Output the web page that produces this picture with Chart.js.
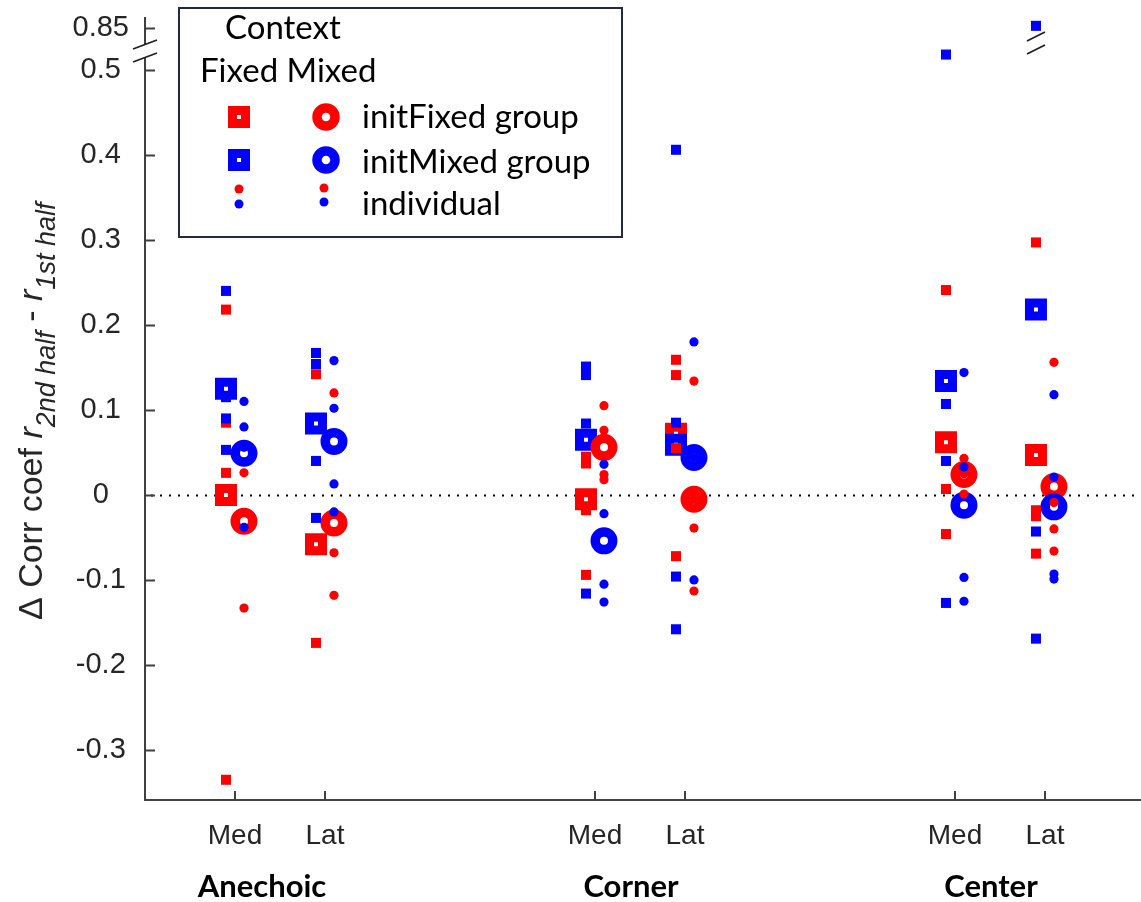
<!DOCTYPE html>
<html>
<head>
<meta charset="utf-8">
<script src="https://cdn.jsdelivr.net/npm/chart.js@4.4.0/dist/chart.umd.min.js"></script>
<style>
    html, body { margin: 0; padding: 0; background: #fff; overflow: hidden; }
    #wrap { width: 1141px; height: 902px; position: relative; }
</style>
</head>
<body>
<div id="wrap"><canvas id="chart"></canvas></div>
<script>
// categories
const rooms = ['Anechoic', 'Corner', 'Center'];
const roomLabelX = [1.3, 5.4, 9.4];
const conditions = ['Med', 'Lat', 'Med', 'Lat', 'Med', 'Lat'];
const xPositions = [1, 2, 5, 6, 9, 10];

// y ticks (0.85 sits above the axis break)
const yTicks = [-0.3, -0.2, -0.1, 0, 0.1, 0.2, 0.3, 0.4, 0.5];
const breakTick = 0.85;

// group means: <initGroup><Context>
const initFixedFixedGroup = [0.000, -0.058, -0.005, 0.072, 0.062, 0.047];
const initMixedFixedGroup = [0.125, 0.084, 0.065, 0.059, 0.134, 0.218];
const initFixedMixedGroup = [-0.031, -0.033, 0.056, -0.005, 0.024, 0.010];
const initMixedMixedGroup = [0.049, 0.063, -0.054, 0.044, -0.012, -0.014];

// individuals, one list per condition
const initFixedFixedInd = [
    [0.218, 0.085, 0.026, -0.335],
    [0.142, -0.174],
    [0.045, 0.037, -0.018, -0.094],
    [0.159, 0.141, 0.055, -0.072],
    [0.241, 0.007, -0.046],
    [0.297, -0.018, -0.025, -0.069]
];
const initMixedFixedInd = [
    [0.240, 0.115, 0.090, 0.053],
    [0.167, 0.154, 0.040, -0.027],
    [0.151, 0.141, 0.084, -0.116],
    [0.406, 0.085, -0.096, -0.158],
    [0.518, 0.107, 0.040, -0.127],
    [0.853, -0.043, -0.169]
];
const initFixedMixedInd = [
    [0.026, -0.133],
    [0.120, -0.068, -0.118],
    [0.105, 0.076, 0.024, 0.018],
    [0.134, -0.005, -0.039, -0.113],
    [0.043, 0.025, 0.001],
    [0.156, -0.009, -0.040, -0.066]
];
const initMixedMixedInd = [
    [0.110, 0.080, 0.056, -0.038],
    [0.158, 0.102, 0.013, -0.020],
    [0.036, -0.022, -0.105, -0.126],
    [0.180, 0.044, -0.100],
    [0.144, 0.033, -0.097, -0.125],
    [0.118, 0.021, -0.093, -0.099]
];

const RED = '#ff0000';
const BLUE = '#0000ff';
const AXIS = '#404040';
const TEXT = '#262626';

// axis break: values above it are shifted down so 0.85 sits just above 0.5
const BREAK_POS = 0.5488;
const onAxis = (v) => v > 0.6 ? v - breakTick + BREAK_POS : v;

const groupPoints = (vals, dx) => vals.map((v, i) => ({ x: xPositions[i] + dx, y: onAxis(v) }));
const indPoints = (lists, dx) => lists.flatMap((vals, i) => vals.map(v => ({ x: xPositions[i] + dx, y: onAxis(v) })));

const SQ = -0.1;   // Fixed context column
const CI = 0.1;    // Mixed context column

const smallSquare = (color) => ({ pointStyle: 'rect', pointRadius: 7.1, pointBorderWidth: 0, pointBackgroundColor: color });
const smallCircle = (color) => ({ pointStyle: 'circle', pointRadius: 4.6, pointBorderWidth: 0, pointBackgroundColor: color });
const bigSquare = (color) => ({ pointStyle: 'rect', pointRadius: 9.2, pointBorderWidth: 9, pointBackgroundColor: '#fff', pointBorderColor: color });
const bigCircle = (color) => ({ pointStyle: 'circle', pointRadius: 8.75, pointBorderWidth: 9.5, pointBackgroundColor: '#fff', pointBorderColor: color });

// first dataset is drawn on top
const datasets = [
    { label: 'initMixed individual Mixed', data: indPoints(initMixedMixedInd, CI), ...smallCircle(BLUE) },
    { label: 'initMixed individual Fixed', data: indPoints(initMixedFixedInd, SQ), ...smallSquare(BLUE) },
    { label: 'initFixed individual Mixed', data: indPoints(initFixedMixedInd, CI), ...smallCircle(RED) },
    { label: 'initFixed individual Fixed', data: indPoints(initFixedFixedInd, SQ), ...smallSquare(RED) },
    { label: 'initMixed group Mixed', data: groupPoints(initMixedMixedGroup, CI), ...bigCircle(BLUE) },
    { label: 'initFixed group Mixed', data: groupPoints(initFixedMixedGroup, CI), ...bigCircle(RED) },
    { label: 'initMixed group Fixed', data: groupPoints(initMixedFixedGroup, SQ), ...bigSquare(BLUE) },
    { label: 'initFixed group Fixed', data: groupPoints(initFixedFixedGroup, SQ), ...bigSquare(RED) }
];

// zero line, inner ticks, axis breaks, labels, legend
const decorations = {
    id: 'decorations',
    beforeDatasetsDraw(chart) {
        const { ctx, chartArea, scales: { y } } = chart;
        const y0 = Math.round(y.getPixelForValue(0)) + 0.5;
        ctx.save();
        ctx.strokeStyle = '#000';
        ctx.lineWidth = 2;
        ctx.setLineDash([2, 7]);
        ctx.beginPath();
        ctx.moveTo(chartArea.left + 6, y0);
        ctx.lineTo(chartArea.right, y0);
        ctx.stroke();
        ctx.restore();
    },
    afterDraw(chart) {
        const { ctx, chartArea, scales: { x, y } } = chart;
        ctx.save();

        // inner tick marks
        ctx.strokeStyle = AXIS;
        ctx.lineWidth = 2;
        ctx.beginPath();
        [...yTicks, BREAK_POS].forEach(v => {
            const py = Math.round(y.getPixelForValue(v)) + 0.5;
            ctx.moveTo(chartArea.left, py);
            ctx.lineTo(chartArea.left + 10, py);
        });
        xPositions.forEach(v => {
            const px = Math.round(x.getPixelForValue(v));
            ctx.moveTo(px, chartArea.bottom);
            ctx.lineTo(px, chartArea.bottom - 9);
        });
        ctx.stroke();

        // axis break marks
        const breakMark = (cx, cy, halfW) => {
            ctx.fillStyle = '#fff';
            ctx.beginPath();
            ctx.moveTo(cx - halfW, cy - 1);
            ctx.lineTo(cx + halfW, cy - 10);
            ctx.lineTo(cx + halfW, cy + 3);
            ctx.lineTo(cx - halfW, cy + 12);
            ctx.closePath();
            ctx.fill();
            ctx.strokeStyle = '#202020';
            ctx.lineWidth = 1.8;
            ctx.beginPath();
            ctx.moveTo(cx - halfW, cy - 1);
            ctx.lineTo(cx + halfW, cy - 10);
            ctx.moveTo(cx - halfW, cy + 12);
            ctx.lineTo(cx + halfW, cy + 3);
            ctx.stroke();
        };
        breakMark(chartArea.left, 50, 12);
        breakMark(x.getPixelForValue(10 + SQ), 42, 9);

        // room labels
        ctx.fillStyle = '#000';
        ctx.font = 'bold 31px Lato';
        ctx.textAlign = 'center';
        ctx.textBaseline = 'alphabetic';
        rooms.forEach((r, i) => ctx.fillText(r, x.getPixelForValue(roomLabelX[i]), 897));

        // y axis title
        ctx.save();
        ctx.translate(42, 620);
        ctx.rotate(-Math.PI / 2);
        ctx.fillStyle = TEXT;
        ctx.textAlign = 'left';
        let cx = 0;
        const part = (txt, font, dy) => {
            ctx.font = font;
            ctx.fillText(txt, cx, dy);
            cx += ctx.measureText(txt).width;
        };
        part('\u0394 Corr coef ', '34px "Liberation Sans"', 0);
        part('r', 'italic 34px "Liberation Sans"', 0);
        part('2nd half', 'italic 27px "Liberation Sans"', 13);
        part(' - ', '34px "Liberation Sans"', 0);
        part('r', 'italic 34px "Liberation Sans"', 0);
        part('1st half', 'italic 27px "Liberation Sans"', 13);
        ctx.restore();

        // legend
        ctx.fillStyle = '#fff';
        ctx.fillRect(179, 8, 443, 229);
        ctx.strokeStyle = '#1f2a44';
        ctx.lineWidth = 2;
        ctx.strokeRect(179, 8, 443, 229);
        ctx.fillStyle = '#000';
        ctx.font = '33px Lato';
        ctx.textAlign = 'left';
        ctx.fillText('Context', 225, 39);
        ctx.fillText('Fixed Mixed', 200, 82);
        ctx.fillText('initFixed group', 362, 128);
        ctx.fillText('initMixed group', 362, 173);
        ctx.fillText('individual', 362, 215);

        const legSquare = (px, py, color) => {
            ctx.fillStyle = color;
            ctx.fillRect(px - 11, py - 11, 22, 22);
            ctx.fillStyle = '#fff';
            ctx.fillRect(px - 2, py - 2, 4, 4);
        };
        const legRing = (px, py, color) => {
            ctx.strokeStyle = color;
            ctx.lineWidth = 9.5;
            ctx.beginPath();
            ctx.arc(px, py, 9, 0, Math.PI * 2);
            ctx.stroke();
        };
        const legDot = (px, py, color) => {
            ctx.fillStyle = color;
            ctx.beginPath();
            ctx.arc(px, py, 4.5, 0, Math.PI * 2);
            ctx.fill();
        };
        legSquare(239, 117, RED);
        legSquare(239, 160, BLUE);
        legRing(326, 117, RED);
        legRing(326, 160, BLUE);
        legDot(239, 189, RED);
        legDot(239, 204, BLUE);
        legDot(324, 188, RED);
        legDot(324, 202, BLUE);

        ctx.restore();
    }
};

Chart.defaults.font.family = '"Liberation Sans", Arial, sans-serif';

new Chart(document.getElementById('chart'), {
    type: 'scatter',
    data: { datasets },
    options: {
        responsive: true,
        maintainAspectRatio: false,
        animation: false,
        devicePixelRatio: 1,
        events: [],
        layout: { autoPadding: false, padding: { top: 18, right: 0, bottom: 0, left: 0 } },
        plugins: {
            legend: { display: false },
            tooltip: { enabled: false }
        },
        scales: {
            x: {
                type: 'linear',
                min: 0,
                max: 11.067,
                afterBuildTicks: (scale) => { scale.ticks = xPositions.map(v => ({ value: v })); },
                afterFit: (scale) => {
                    scale.height = 102;
                    scale.paddingLeft = 0;
                    scale.paddingRight = 0;
                },
                ticks: {
                    autoSkip: false,
                    maxRotation: 0,
                    padding: 19,
                    color: TEXT,
                    font: { size: 28 },
                    callback: (v) => conditions[xPositions.indexOf(v)]
                },
                grid: { display: false, drawTicks: false },
                border: { display: true, color: AXIS, width: 2 }
            },
            y: {
                type: 'linear',
                min: -0.3588,
                max: 0.561,
                afterBuildTicks: (scale) => { scale.ticks = [...yTicks, BREAK_POS].map(v => ({ value: v })); },
                afterFit: (scale) => {
                    scale.width = 145;
                    scale.paddingTop = 0;
                    scale.paddingBottom = 0;
                },
                ticks: {
                    autoSkip: false,
                    padding: 16,
                    crossAlign: 'center',
                    color: TEXT,
                    font: { size: 29 },
                    callback: (v) => v > 0.54 ? String(breakTick) : String(Math.round(v * 10) / 10)
                },
                grid: { display: false, drawTicks: false },
                border: { display: true, color: AXIS, width: 2 }
            }
        }
    },
    plugins: [decorations]
});
</script>
</body>
</html>
